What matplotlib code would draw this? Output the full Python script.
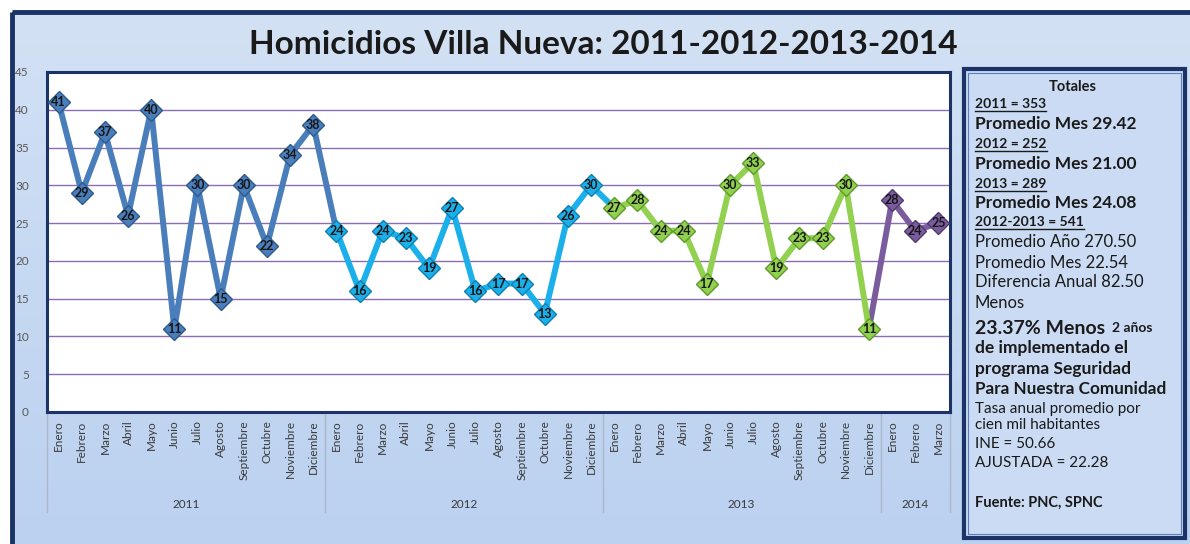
import numpy as np
import matplotlib
matplotlib.use("Agg")
import matplotlib.pyplot as plt
from matplotlib.patches import Rectangle
from matplotlib.colors import LinearSegmentedColormap

plt.rcParams['font.family'] = ['Lato', 'DejaVu Sans']

months = ["Enero", "Febrero", "Marzo", "Abril", "Mayo", "Junio", "Julio",
          "Agosto", "Septiembre", "Octubre", "Noviembre", "Diciembre"]
years = ["2011", "2012", "2013", "2014"]
v2011 = [41, 29, 37, 26, 40, 11, 30, 15, 30, 22, 34, 38]
v2012 = [24, 16, 24, 23, 19, 27, 16, 17, 17, 13, 26, 30]
v2013 = [27, 28, 24, 24, 17, 30, 33, 19, 23, 23, 30, 11]
v2014 = [28, 24, 25]
series = [v2011, v2012, v2013, v2014]
colors = ["#4A7EBB", "#1CB0EA", "#92D050", "#7A5C9E"]
edge_colors = ["#2F5A8C", "#0E7FB0", "#5E9A2A", "#4E3A6E"]

panel_lines = [
    # text, y(px), size, weight, underline, centered
    ("Totales", 87, 10.5, "bold", False, True),
    ("2011 = 353", 104, 10, "bold", True, False),
    ("Promedio Mes 29.42", 124, 12.5, "bold", False, False),
    ("2012 = 252", 144, 10, "bold", True, False),
    ("Promedio Mes 21.00", 164, 12.5, "bold", False, False),
    ("2013 = 289", 184, 10, "bold", True, False),
    ("Promedio Mes 24.08", 203, 12.5, "bold", False, False),
    ("2012-2013 = 541", 222, 10, "bold", True, False),
    ("Promedio Año 270.50", 242, 12, "normal", False, False),
    ("Promedio Mes 22.54", 263, 12, "normal", False, False),
    ("Diferencia Anual 82.50", 282, 12, "normal", False, False),
    ("Menos", 303, 12, "normal", False, False),
    ("de implementado el", 348, 12.5, "bold", False, False),
    ("programa Seguridad", 369, 12.5, "bold", False, False),
    ("Para Nuestra Comunidad", 389, 12.3, "bold", False, False),
    ("Tasa anual promedio por", 409, 11, "normal", False, False),
    ("cien mil habitantes", 425, 11, "normal", False, False),
    ("INE = 50.66", 444, 11, "normal", False, False),
    ("AJUSTADA = 22.28", 463, 11, "normal", False, False),
    ("Fuente: PNC, SPNC", 503, 10.5, "bold", False, False),
]

W, H = 1190, 544
fig = plt.figure(figsize=(W / 100, H / 100), dpi=100, facecolor="white")

# background with frame
bg = fig.add_axes([0, 0, 1, 1])
bg.axis("off")
cmap = LinearSegmentedColormap.from_list("bgblue", ["#D3E1F4", "#C6D9F2", "#BBD1F0"])
grad = np.linspace(0, 1, 256).reshape(-1, 1)
bg.imshow(grad, cmap=cmap, extent=[12, W + 5, H + 5, 12], aspect="auto", zorder=0)
bg.add_patch(Rectangle((12, 12), W, H, fill=False, edgecolor="#1B3366", lw=3.5, zorder=1))
bg.set_xlim(0, W)
bg.set_ylim(H, 0)

# side panel
bg.add_patch(Rectangle((964, 69), 221, 469, facecolor="#CADBF3", edgecolor="#1B3366",
                       lw=3, zorder=2))
bg.add_patch(Rectangle((968, 73), 213, 461, fill=False, edgecolor="#5B7FB8",
                       lw=0.8, zorder=2))

fig.text(603 / W, 1 - 45 / H, "Homicidios Villa Nueva: 2011-2012-2013-2014",
         ha="center", va="center", fontsize=24, fontweight="bold", color="#1A1A1A")

# main chart
left, top, right, bottom = 47, 72, 950, 412
ax = fig.add_axes([left / W, 1 - bottom / H, (right - left) / W, (bottom - top) / H])
ax.set_facecolor("white")
n = sum(len(s) for s in series)
ax.set_xlim(-0.5, n - 0.5)
ax.set_ylim(0, 45)
ax.set_yticks(np.arange(0, 46, 5))
ax.tick_params(axis="y", length=0, pad=13, labelsize=8.5, labelcolor="#595959")
ax.grid(axis="y", color="#8A6DB3", lw=1.0)
ax.set_axisbelow(True)
for sp in ax.spines.values():
    sp.set_color("#1B3366")
    sp.set_linewidth(2.2)

labels = []
start = 0
xs_all = []
for i, s in enumerate(series):
    xs = np.arange(start, start + len(s))
    xs_all.append(xs)
    labels += months[:len(s)]
    start += len(s)

# connectors between years
conn_colors = [colors[0], colors[1], colors[3]]
for i in range(3):
    ax.plot([xs_all[i][-1], xs_all[i + 1][0]], [series[i][-1], series[i + 1][0]],
            color=conn_colors[i], lw=4.3, solid_capstyle="round", zorder=3)

for i, s in enumerate(series):
    ax.plot(xs_all[i], s, color=colors[i], lw=4.3, solid_joinstyle="round",
            solid_capstyle="round", zorder=3)
    ax.plot(xs_all[i], s, ls="none", marker="D", ms=11, mfc=colors[i],
            mec=edge_colors[i], mew=1.0, zorder=4)
    for x, y in zip(xs_all[i], s):
        ax.text(x, y, str(y), ha="center", va="center", fontsize=9,
                fontweight="bold", color="#161616", zorder=5)

ax.set_xticks(np.arange(n))
ax.set_xticklabels(labels, rotation=90, fontsize=8.5, color="#3A3A3A")
ax.tick_params(axis="x", length=0, pad=6)

# year groups
trans = ax.get_xaxis_transform()
yb = (bottom - 512) / (bottom - top)
ylab = (bottom - 505) / (bottom - top)
bounds = [-0.5]
for xs in xs_all:
    bounds.append(xs[-1] + 0.5)
for b in bounds:
    ax.plot([b, b], [0, yb], transform=trans, color="#A9B8CC", lw=1, clip_on=False)
for i, xs in enumerate(xs_all):
    ax.text((xs[0] + xs[-1]) / 2, ylab, years[i], transform=trans, ha="center",
            va="center", fontsize=8.5, color="#3A3A3A")

# panel text
px = 975
texts = []
for txt, y, size, weight, ul, center in panel_lines:
    t = fig.text((1073 if center else px) / W, 1 - y / H, txt, ha="center" if center else "left",
                 va="center", fontsize=size, fontweight=weight, color="#1A1A1A")
    texts.append((t, ul))
t1 = fig.text(px / W, 1 - 328 / H, "23.37% Menos", ha="left", va="center",
              fontsize=14, fontweight="bold", color="#1A1A1A")
fig.canvas.draw()
bb = t1.get_window_extent()
fig.text((bb.x1 + 7) / W, 1 - 328 / H, "2 años", ha="left", va="center",
         fontsize=10, fontweight="bold", color="#1A1A1A")
for t, ul in texts:
    if ul:
        b = t.get_window_extent()
        bg.plot([b.x0, b.x1], [H - b.y0 + 1, H - b.y0 + 1], color="#1A1A1A", lw=1, zorder=3)

fig.savefig("out.png", dpi=100, facecolor="white")
